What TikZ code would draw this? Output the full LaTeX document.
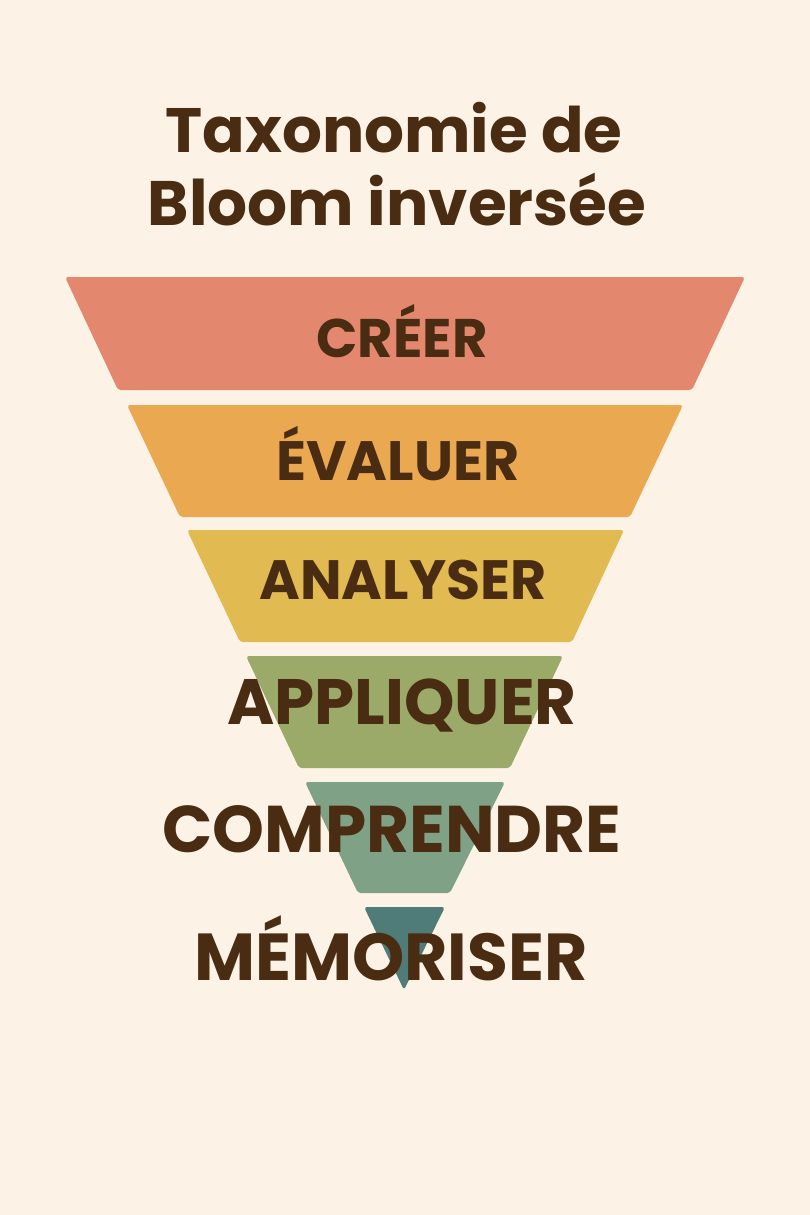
\documentclass[tikz,border=0pt]{standalone}
\usepackage{fontspec}
\setmainfont{Poppins}
\usepackage{graphicx}
\definecolor{bg}{HTML}{FCF3E6}
\definecolor{txt}{HTML}{4A2C12}
\definecolor{c1}{HTML}{E3876E}
\definecolor{c2}{HTML}{EAA850}
\definecolor{c3}{HTML}{E2BA52}
\definecolor{c4}{HTML}{9BAA68}
\definecolor{c5}{HTML}{7FA286}
\definecolor{c6}{HTML}{4F7C78}
\begin{document}
\begin{tikzpicture}[x=1pt,y=-1pt,
  band/.style={rounded corners=3pt},
  lbl/.style={text=txt,font=\bfseries,inner sep=0pt,anchor=center}]
\fill[bg] (0,0) rectangle (810,1215);
\useasboundingbox (0,0) rectangle (810,1215);
\fill[band,c1] (65,277)--(745,277)--(692,390)--(118,390)--cycle;
\fill[band,c2] (127,405)--(683,405)--(630,517)--(180,517)--cycle;
\fill[band,c3] (187,530)--(624,530)--(572,642)--(240,642)--cycle;
\fill[band,c4] (246,656)--(563,656)--(510,768)--(299,768)--cycle;
\fill[band,c5] (305,782)--(505,782)--(450,893)--(358,893)--cycle;
\fill[band,c6] (364,907)--(445,907)--(404,990)--cycle;
\node[lbl] (t1) at (394,128) {\resizebox{457pt}{!}{Taxonomie de}};
\node[lbl] (t2) at (397,200) {\resizebox{498pt}{!}{Bloom inversée}};
\node[lbl] (l1) at (402,331) {\resizebox{171pt}{!}{CRÉER}};
\node[lbl] (l2) at (398,454) {\resizebox{243pt}{!}{ÉVALUER}};
\node[lbl] (l3) at (403,580) {\resizebox{287pt}{!}{ANALYSER}};
\node[lbl] (l4) at (402,706) {\resizebox{349pt}{!}{APPLIQUER}};
\node[lbl] (l5) at (392,829) {\resizebox{459pt}{!}{COMPRENDRE}};
\node[lbl] (l6) at (391,948) {\resizebox{393pt}{!}{MÉMORISER}};
\end{tikzpicture}
\end{document}
